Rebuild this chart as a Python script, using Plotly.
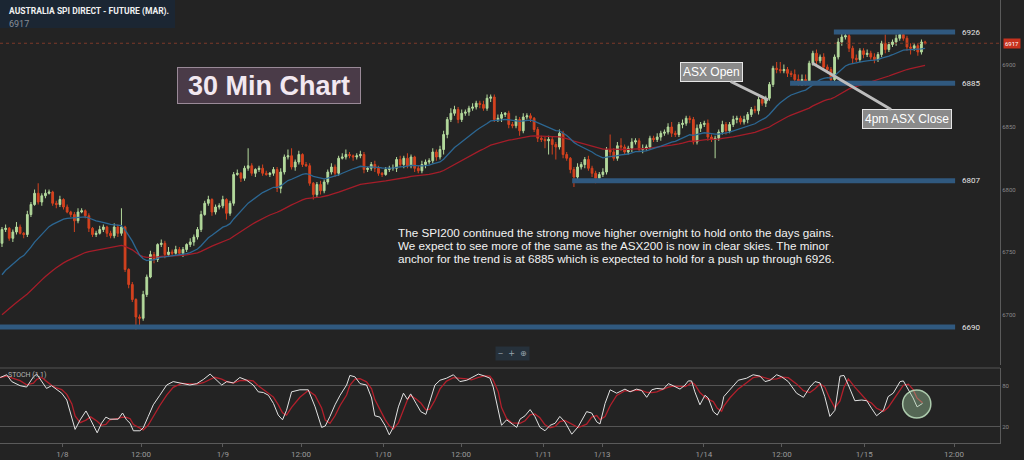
import pandas as pd
import plotly.graph_objects as go

# ---- data (30 min bars, price in index points) ----
closes = [
    6768, 6769, 6761, 6766, 6770, 6765, 6764, 6780, 6788, 6797,
    6790, 6795, 6797, 6798, 6789, 6788, 6792, 6786, 6782, 6780,
    6775, 6782, 6783, 6779, 6769, 6764, 6765, 6768, 6770, 6765,
    6763, 6770, 6765, 6770, 6736, 6724, 6712, 6698, 6697, 6716,
    6730, 6748, 6744, 6756, 6757, 6748, 6750, 6749, 6752, 6749,
    6752, 6756, 6758, 6762, 6768, 6780, 6789, 6792, 6782, 6786,
    6787, 6792, 6781, 6789, 6812, 6813, 6809, 6817, 6819, 6813,
    6816, 6817, 6813, 6812, 6813, 6816, 6801, 6814, 6826, 6827,
    6818, 6822, 6828, 6820, 6819, 6805, 6796, 6804, 6799, 6806,
    6814, 6818, 6813, 6825, 6826, 6828, 6827, 6826, 6827, 6828,
    6816, 6817, 6820, 6817, 6813, 6812, 6816, 6817, 6817, 6824,
    6820, 6825, 6819, 6826, 6817, 6815, 6820, 6822, 6823, 6830,
    6826, 6832, 6844, 6856, 6861, 6864, 6856, 6861, 6862, 6865,
    6866, 6869, 6868, 6865, 6873, 6874, 6856, 6857, 6860, 6861,
    6852, 6851, 6856, 6847, 6858, 6859, 6857, 6848, 6841, 6840,
    6839, 6840, 6836, 6834, 6845, 6828, 6825, 6816, 6810, 6818,
    6820, 6824, 6817, 6813, 6809, 6812, 6814, 6832, 6830, 6825,
    6835, 6834, 6830, 6833, 6838, 6839, 6832, 6833, 6834, 6841,
    6840, 6842, 6845, 6846, 6850, 6845, 6844, 6852, 6853, 6857,
    6856, 6838, 6849, 6852, 6853, 6842, 6840, 6841, 6846, 6852,
    6847, 6852, 6856, 6857, 6854, 6856, 6860, 6864, 6863, 6872,
    6869, 6873, 6884, 6897, 6896, 6895, 6896, 6893, 6892, 6888,
    6887, 6888, 6887, 6901, 6909, 6903, 6906, 6898, 6896, 6888,
    6906, 6918, 6922, 6923, 6913, 6905, 6904, 6911, 6908, 6909,
    6906, 6904, 6908, 6917, 6912, 6916, 6918, 6921, 6924, 6921,
    6914, 6913, 6915, 6910, 6918, 6917,
]
first_open = 6757

# wick lengths above / below the candle body
up_wick = [
    2, 3, 1, 2, 4, 2, 1, 3, 2, 3,
    8, 2, 3, 2, 1, 2, 3, 1, 2, 1,
    2, 3, 2, 1, 2, 1, 2, 3, 2, 1,
    2, 3, 2, 15, 1, 1, 2, 1, 2, 3,
    2, 3, 2, 1, 3, 2, 4, 2, 3, 2,
    2, 1, 3, 2, 2, 3, 2, 3, 1, 2,
    2, 3, 1, 2, 2, 3, 1, 2, 14, 2,
    1, 2, 3, 2, 1, 2, 2, 3, 2, 5,
    6, 2, 3, 1, 2, 2, 1, 2, 3, 2,
    2, 3, 2, 2, 3, 4, 2, 1, 2, 3,
    2, 1, 2, 3, 2, 1, 2, 2, 3, 2,
    3, 2, 4, 2, 1, 2, 3, 2, 2, 3,
    2, 3, 3, 2, 4, 3, 2, 3, 2, 2,
    3, 2, 2, 3, 3, 2, 2, 3, 2, 1,
    2, 2, 3, 2, 3, 2, 2, 1, 2, 2,
    2, 3, 2, 2, 3, 2, 2, 1, 2, 3,
    2, 2, 3, 2, 2, 2, 3, 2, 12, 3,
    3, 6, 2, 2, 3, 2, 2, 3, 2, 2,
    2, 3, 2, 2, 3, 4, 2, 2, 3, 2,
    2, 2, 3, 2, 2, 3, 2, 2, 2, 3,
    2, 2, 3, 2, 2, 3, 2, 2, 3, 2,
    3, 2, 2, 2, 5, 6, 4, 2, 2, 4,
    4, 4, 4, 2, 2, 3, 2, 3, 2, 2,
    2, 3, 3, 3, 2, 2, 3, 2, 2, 3,
    2, 3, 2, 2, 7, 2, 2, 3, 2, 2,
    2, 3, 2, 2, 2, 1,
]
lo_wick = [
    3, 2, 2, 3, 2, 1, 3, 2, 2, 1,
    2, 3, 2, 1, 2, 3, 2, 2, 1, 2,
    9, 2, 1, 2, 3, 2, 2, 1, 2, 3,
    2, 2, 3, 2, 2, 3, 2, 10, 6, 2,
    2, 1, 3, 2, 2, 3, 2, 2, 1, 2,
    3, 2, 2, 3, 2, 2, 1, 2, 3, 2,
    2, 2, 5, 2, 2, 1, 3, 2, 2, 2,
    3, 2, 2, 1, 2, 2, 3, 4, 2, 2,
    2, 3, 2, 2, 1, 2, 4, 2, 3, 2,
    2, 2, 3, 2, 1, 2, 2, 3, 2, 2,
    3, 2, 2, 3, 2, 2, 1, 2, 2, 3,
    2, 3, 2, 2, 3, 2, 2, 3, 2, 2,
    3, 2, 4, 3, 2, 2, 3, 2, 2, 3,
    2, 2, 3, 2, 2, 3, 2, 2, 3, 2,
    3, 2, 2, 4, 2, 2, 3, 2, 3, 2,
    6, 11, 8, 10, 2, 3, 2, 3, 8, 2,
    2, 3, 2, 3, 4, 3, 2, 2, 3, 2,
    2, 3, 2, 2, 3, 2, 2, 3, 2, 2,
    2, 2, 3, 2, 2, 3, 2, 2, 3, 2,
    3, 2, 2, 3, 2, 3, 2, 15, 2, 2,
    3, 2, 2, 3, 2, 2, 3, 2, 2, 3,
    2, 3, 2, 2, 3, 2, 2, 3, 2, 4,
    4, 4, 4, 2, 2, 3, 2, 3, 3, 4,
    2, 2, 3, 2, 3, 4, 2, 2, 3, 2,
    2, 3, 2, 2, 3, 2, 2, 3, 2, 2,
    3, 5, 2, 3, 2, 1,
]

# moving average starting levels at the left edge
ema_fast_start = 6728
ema_slow_start = 6697

# stochastic %K, sampled along the bar axis
stoch_x = [
    -0.5, 1.3, 2.7, 5.0, 6.8, 8.7, 9.6, 11.0, 12.3, 13.7,
    15.1, 16.5, 17.9, 19.3, 20.2, 21.6, 23.2, 24.5, 26.3, 27.5,
    28.7, 29.8, 32.1, 33.3, 34.4, 35.4, 36.3, 38.1, 39.0, 40.4,
    41.8, 43.6, 45.5, 47.3, 49.6, 51.9, 53.8, 55.6, 57.5, 58.8,
    60.7, 62.1, 63.9, 65.7, 67.6, 69.4, 70.8, 72.2, 73.6, 75.0,
    76.3, 77.5, 78.6, 80.0, 82.3, 84.6, 86.5, 88.3, 89.3, 90.6,
    92.0, 93.4, 95.2, 96.1, 97.5, 98.9, 100.7, 102.1, 103.0, 104.4,
    105.8, 107.0, 108.1, 109.5, 110.9, 112.0, 112.9, 114.4, 115.7, 117.1,
    118.2, 119.6, 121.0, 122.8, 124.7, 126.5, 128.4, 129.7, 131.6, 133.4,
    134.8, 135.7, 137.1, 138.0, 139.4, 140.8, 142.2, 143.1, 144.5, 145.9,
    147.2, 148.6, 150.0, 151.4, 152.8, 154.1, 155.5, 157.4, 159.2, 161.5,
    162.9, 164.3, 165.2, 166.6, 168.0, 169.8, 172.1, 173.5, 175.3, 176.7,
    178.1, 179.5, 180.9, 182.7, 184.1, 185.4, 187.3, 188.7, 189.6, 190.5,
    191.4, 192.8, 194.2, 195.1, 196.5, 197.6, 198.8, 199.4, 201.1, 203.4,
    205.7, 207.5, 209.4, 210.8, 212.2, 214.0, 215.4, 217.2, 219.5, 221.4,
    223.2, 224.6, 226.0, 227.3, 228.7, 230.1, 231.5, 232.6, 233.8, 235.6,
    237.5, 238.9, 240.2, 241.6, 243.5, 244.8, 246.2, 248.1, 249.0, 250.4,
    251.7, 252.8, 254.3,
]
stoch_k = [
    92, 96, 86, 80, 78, 93, 97, 86, 76, 80,
    74, 69, 59, 32, 16, 30, 43, 30, 11, 25,
    34, 31, 31, 40, 30, 25, 14, 14, 18, 35,
    52, 66, 81, 86, 83, 81, 83, 89, 97, 91,
    81, 86, 84, 92, 88, 81, 71, 70, 66, 54,
    37, 30, 44, 71, 74, 74, 49, 19, 21, 35,
    52, 66, 81, 95, 93, 83, 81, 62, 36, 34,
    22, 8, 19, 49, 69, 60, 68, 54, 42, 38,
    57, 81, 88, 91, 96, 86, 88, 92, 97, 94,
    91, 78, 44, 22, 30, 25, 19, 31, 36, 45,
    35, 19, 14, 22, 25, 35, 27, 9, 20, 42,
    40, 27, 24, 54, 74, 69, 75, 71, 75, 73,
    63, 74, 76, 75, 83, 80, 75, 81, 87, 87,
    71, 52, 66, 62, 42, 37, 49, 64, 74, 88,
    91, 96, 94, 86, 88, 96, 93, 86, 69, 63,
    78, 86, 84, 64, 35, 44, 94, 95, 81, 58,
    59, 58, 47, 36, 44, 64, 69, 86, 87, 74,
    62, 49, 54,
]

tick_pos = [16.7, 38.4, 61.0, 82.6, 105.3, 126.8, 149.5, 165.8, 193.9, 215.4, 238.2, 263.0]
tick_text = ["1/8", "12:00", "1/9", "12:00", "1/10", "12:00", "1/11", "1/13", "1/14", "12:00", "1/15", "12:00"]

levels = [6926, 6885, 6807, 6690]
last_price = 6917

note_lines = [
    "The SPI200 continued the strong move higher overnight to hold onto the days gains.",
    "We expect to see more of the same as the ASX200 is now in clear skies. The minor",
    "anchor for the trend is at 6885 which is expected to hold for a push up through 6926.",
]

# ---- derived series ----
bars = list(range(len(closes)))
opens = [first_open] + closes[:-1]
highs = [max(o, c) + u for o, c, u in zip(opens, closes, up_wick)]
lows = [min(o, c) - l for o, c, l in zip(opens, closes, lo_wick)]


def ema(values, span, seed):
    a = 2.0 / (span + 1)
    out, e = [], seed
    for v in values:
        e = e + a * (v - e)
        out.append(e)
    return out


ema_fast = ema(closes, 20, ema_fast_start)
ema_slow = ema(closes, 50, ema_slow_start)
stoch_d = pd.Series(stoch_k).rolling(3, min_periods=1).mean().tolist()

BG = "#232323"
GREEN = "#b3d99c"
RED = "#d4421f"

fig = go.Figure()

fig.add_trace(go.Scatter(x=bars, y=ema_slow, mode="lines",
                         line=dict(color="#a51d29", width=1.3), hoverinfo="skip"))
fig.add_trace(go.Scatter(x=bars, y=ema_fast, mode="lines",
                         line=dict(color="#2c6793", width=1.3), hoverinfo="skip"))
fig.add_trace(go.Candlestick(
    x=bars, open=opens, high=highs, low=lows, close=closes,
    increasing=dict(line=dict(color=GREEN, width=1), fillcolor=GREEN),
    decreasing=dict(line=dict(color=RED, width=1), fillcolor=RED),
    whiskerwidth=0, hoverinfo="skip"))

fig.add_trace(go.Scatter(x=stoch_x, y=stoch_d, yaxis="y2", mode="lines",
                         line=dict(color="#b3202c", width=1.3), hoverinfo="skip"))
fig.add_trace(go.Scatter(x=stoch_x, y=stoch_k, yaxis="y2", mode="lines",
                         line=dict(color="#e2e2e2", width=1), hoverinfo="skip"))

# support / resistance bands
band_start = {6926: 229.8, 6885: 217.7, 6807: 157.5, 6690: -0.6}
shapes = []
annotations = []
for lv in levels:
    shapes.append(dict(type="line", xref="x", yref="y", x0=band_start[lv], x1=263.3,
                       y0=lv, y1=lv, line=dict(color="#30597f", width=5)))
    annotations.append(dict(x=264.6, y=lv, xref="x", yref="y", text=str(lv), showarrow=False,
                            xanchor="left", yanchor="middle",
                            font=dict(size=8, color="#e6e6e6", family="Roboto")))

# last price dotted line + tag
shapes.append(dict(type="line", xref="paper", yref="y", x0=0, x1=1, y0=last_price, y1=last_price,
                   line=dict(color="#7d3a2a", width=1, dash="dot")))
annotations.append(dict(xref="paper", yref="y", x=1, y=last_price, text=str(last_price),
                        showarrow=False, xanchor="left", yanchor="middle", xshift=3,
                        bgcolor="#c8321e", borderpad=1,
                        font=dict(size=6, color="white", family="Roboto")))

# panel separator
shapes.append(dict(type="line", xref="paper", yref="paper", x0=0, x1=1, y0=0.1693, y1=0.1693,
                   line=dict(color="#555555", width=1)))

# header box
shapes.append(dict(type="rect", xref="paper", yref="paper", x0=0, x1=0.175, y0=0.937, y1=1.0,
                   fillcolor="#1b2633", line=dict(width=0), layer="below"))
annotations.append(dict(xref="paper", yref="paper", x=0.007, y=0.975,
                        text="<b>AUSTRALIA SPI DIRECT - FUTURE (MAR).</b>",
                        showarrow=False, xanchor="left", yanchor="middle",
                        font=dict(size=8.5, color="#f0f0f0", family="Roboto")))
annotations.append(dict(xref="paper", yref="paper", x=0.007, y=0.946, text=str(last_price),
                        showarrow=False, xanchor="left", yanchor="middle",
                        font=dict(size=9, color="#8a8f96", family="Roboto")))

# chart title box
annotations.append(dict(xref="paper", yref="paper", x=0.2685, y=0.808, text="<b>30 Min Chart</b>",
                        showarrow=False, xanchor="center", yanchor="middle",
                        width=174, height=27, borderpad=4,
                        bgcolor="#4a3b48", bordercolor="#9a8a98", borderwidth=1,
                        font=dict(size=27, color="#f2e8f0", family="Liberation Sans")))

# callouts
annotations.append(dict(x=211.7, y=6871.6, xref="x", yref="y", text="ASX Open", showarrow=True,
                        ax=-57, ay=-28, arrowhead=0, arrowwidth=3, arrowcolor="#bdbdbd",
                        bgcolor="#8a8a8a", bordercolor="#e6e6e6", borderwidth=1, borderpad=2,
                        font=dict(size=12, color="white", family="Liberation Sans")))
annotations.append(dict(x=223.8, y=6901.2, xref="x", yref="y", text="4pm ASX Close", showarrow=True,
                        ax=95, ay=56, arrowhead=0, arrowwidth=3, arrowcolor="#bdbdbd",
                        bgcolor="#8a8a8a", bordercolor="#e6e6e6", borderwidth=1, borderpad=2,
                        font=dict(size=12, color="white", family="Liberation Sans")))

# commentary, one annotation per line to keep the tight line spacing
for i, line in enumerate(note_lines):
    annotations.append(dict(xref="paper", yref="paper", x=0.396, y=(443 - 232 - 13 * i) / 443,
                            text=line, showarrow=False, xanchor="left", yanchor="middle",
                            font=dict(size=11.7, color="#f2f2f2", family="Liberation Sans")))

# stoch label + zoom controls
annotations.append(dict(xref="paper", yref="paper", x=0.006, y=0.1535, text="STOCH (1,1)",
                        showarrow=False, xanchor="left", yanchor="middle",
                        font=dict(size=7, color="#b5b5b5", family="Roboto")))
annotations.append(dict(xref="paper", yref="paper", x=0.512, y=0.201, text="‒  +  ⊕",
                        showarrow=False, xanchor="center", yanchor="middle",
                        bgcolor="#26313b", borderpad=2,
                        font=dict(size=8, color="#9aa4ad", family="DejaVu Sans")))

# highlight circle on the stochastic
shapes.append(dict(type="circle", xref="x", yref="y2", x0=248.8, x1=256.6, y0=32.7, y1=73.7,
                   fillcolor="rgba(160,205,160,0.40)",
                   line=dict(color="rgba(200,235,200,0.8)", width=1.5)))

fig.update_layout(
    width=1024, height=460,
    paper_bgcolor=BG, plot_bgcolor=BG,
    margin=dict(l=0, r=24, t=0, b=17),
    showlegend=False,
    hovermode=False,
    shapes=shapes,
    annotations=annotations,
    xaxis=dict(range=[-0.55, 275.7], anchor="y2", tickvals=tick_pos, ticktext=tick_text,
               showgrid=False, zeroline=False, showline=True, linecolor="#5a5a5a",
               ticks="outside", ticklen=3, tickcolor="#5a5a5a",
               tickfont=dict(size=8, color="#9a9a9a", family="Roboto"),
               rangeslider=dict(visible=False)),
    yaxis=dict(domain=[0.176, 1], range=[6659.6, 6951.6], anchor="x", side="right",
               tickvals=[6700, 6750, 6800, 6850, 6900, 6950], showgrid=False, zeroline=False,
               showline=True, linecolor="#5a5a5a", ticks="",
               tickfont=dict(size=6, color="#8a8a8a", family="Roboto")),
    yaxis2=dict(domain=[0, 0.1693], range=[-3.9, 105.9], anchor="x", side="right",
                tickvals=[20, 80], showgrid=True, gridcolor="#555555", zeroline=False,
                showline=True, linecolor="#5a5a5a", ticks="",
                tickfont=dict(size=6, color="#8a8a8a", family="Roboto")),
)

# page body margin off so the figure sits flush in the window; no mode bar
fig.write_html("out.html", config={"displayModeBar": False},
               post_script="document.body.style.margin='0';document.body.style.background='%s';" % BG)
